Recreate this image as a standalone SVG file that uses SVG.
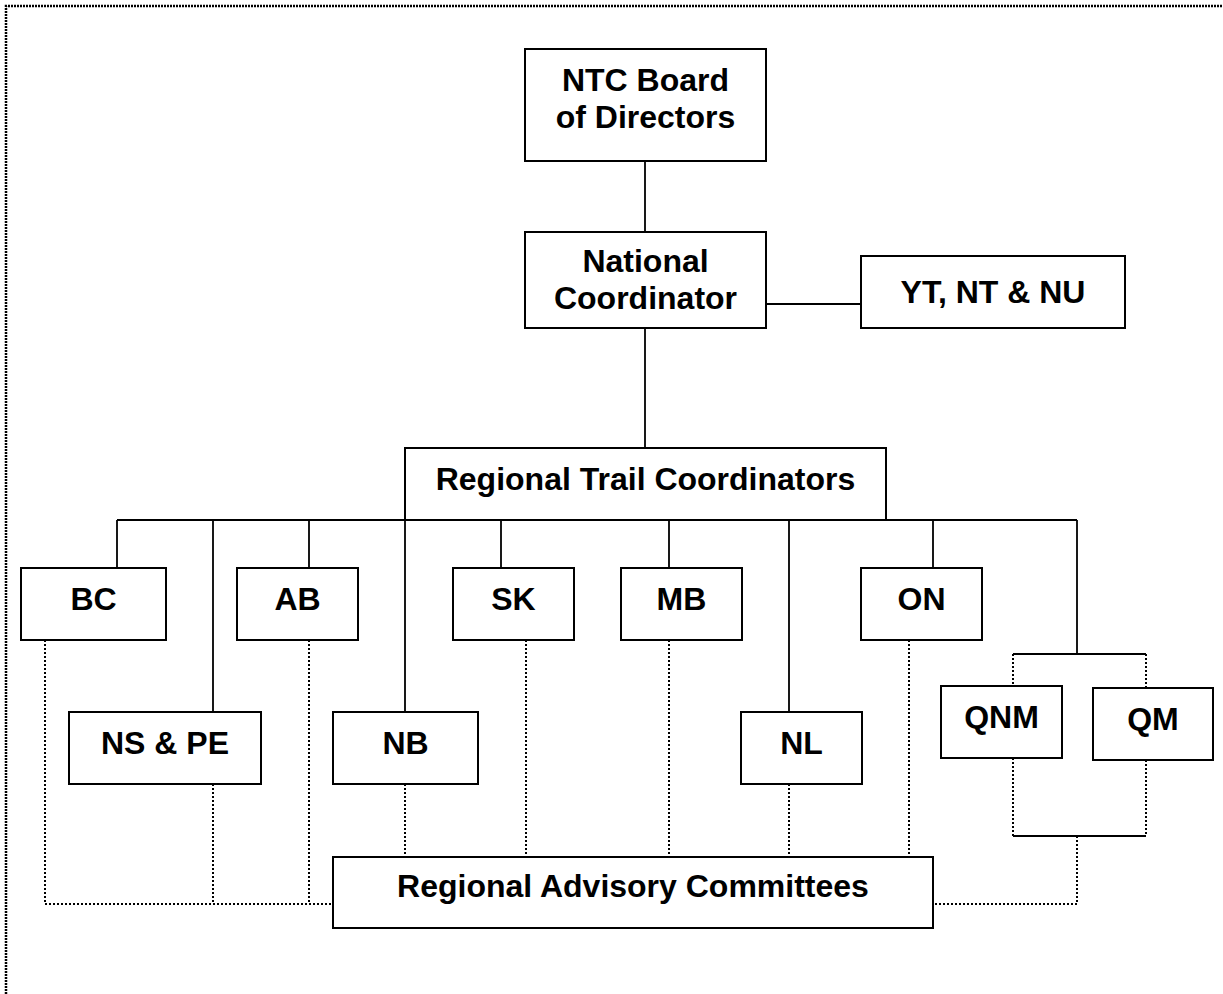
<svg xmlns="http://www.w3.org/2000/svg" width="1223" height="994" viewBox="0 0 1223 994">
<style>
.box{fill:#fff;stroke:#000;stroke-width:2}
.t{font-family:"Liberation Sans",Arial,sans-serif;font-weight:bold;font-size:32px;fill:#000;text-anchor:middle}
.s{fill:none;stroke:#000;stroke-width:1.8}
.d{fill:none;stroke:#000;stroke-width:2;stroke-dasharray:2 2}
.border{fill:none;stroke:#000;stroke-width:2.5;stroke-dasharray:2 1}
</style>
<rect width="1223" height="994" fill="#fff"/>
<path class="border" d="M6,994 V6 H1223"/>
<g id="connectors">
<path class="s" d="M645,161 V232 M766,304 H861 M645,328 V448"/>
<path class="s" d="M117,520 H1077 M117,520 V568 M213,520 V712 M309,520 V568 M405,520 V712 M501,520 V568 M669,520 V568 M789,520 V712 M933,520 V568 M1077,520 V654"/>
<path class="s" d="M1013,654 H1146 M1013,836 H1146"/>
<path class="d" d="M1013,654 V686 M1146,654 V688 M1013,758 V836 M1146,760 V836 M1077,836 V904 H933"/>
<path class="d" d="M45,640 V904 H333 M213,784 V904 M309,640 V904"/>
<path class="d" d="M405,784 V857 M526,640 V857 M669,640 V857 M789,784 V857 M909,640 V857"/>
</g>
<g id="ntc-board"><rect class="box" x="525" y="49" width="241" height="112"/><text class="t" x="645.5" y="91">NTC Board</text><text class="t" x="645.5" y="128">of Directors</text></g>
<g id="national-coordinator"><rect class="box" x="525" y="232" width="241" height="96"/><text class="t" x="645.5" y="272">National</text><text class="t" x="645.5" y="309">Coordinator</text></g>
<g id="yt-nt-nu"><rect class="box" x="861" y="256" width="264" height="72"/><text class="t" x="993" y="303">YT, NT &amp; NU</text></g>
<g id="regional-trail-coordinators"><rect class="box" x="405" y="448" width="481" height="72"/><text class="t" x="645.5" y="490">Regional Trail Coordinators</text></g>
<g id="bc"><rect class="box" x="21" y="568" width="145" height="72"/><text class="t" x="93.5" y="610">BC</text></g>
<g id="ab"><rect class="box" x="237" y="568" width="121" height="72"/><text class="t" x="297.5" y="610">AB</text></g>
<g id="sk"><rect class="box" x="453" y="568" width="121" height="72"/><text class="t" x="513.5" y="610">SK</text></g>
<g id="mb"><rect class="box" x="621" y="568" width="121" height="72"/><text class="t" x="681.5" y="610">MB</text></g>
<g id="on"><rect class="box" x="861" y="568" width="121" height="72"/><text class="t" x="921.5" y="610">ON</text></g>
<g id="ns-pe"><rect class="box" x="69" y="712" width="192" height="72"/><text class="t" x="165" y="754">NS &amp; PE</text></g>
<g id="nb"><rect class="box" x="333" y="712" width="145" height="72"/><text class="t" x="405.5" y="754">NB</text></g>
<g id="nl"><rect class="box" x="741" y="712" width="121" height="72"/><text class="t" x="801.5" y="754">NL</text></g>
<g id="qnm"><rect class="box" x="941" y="686" width="121" height="72"/><text class="t" x="1001.5" y="728">QNM</text></g>
<g id="qm"><rect class="box" x="1093" y="688" width="120" height="72"/><text class="t" x="1153" y="730">QM</text></g>
<g id="regional-advisory-committees"><rect class="box" x="333" y="857" width="600" height="71"/><text class="t" x="633" y="897">Regional Advisory Committees</text></g>
</svg>
